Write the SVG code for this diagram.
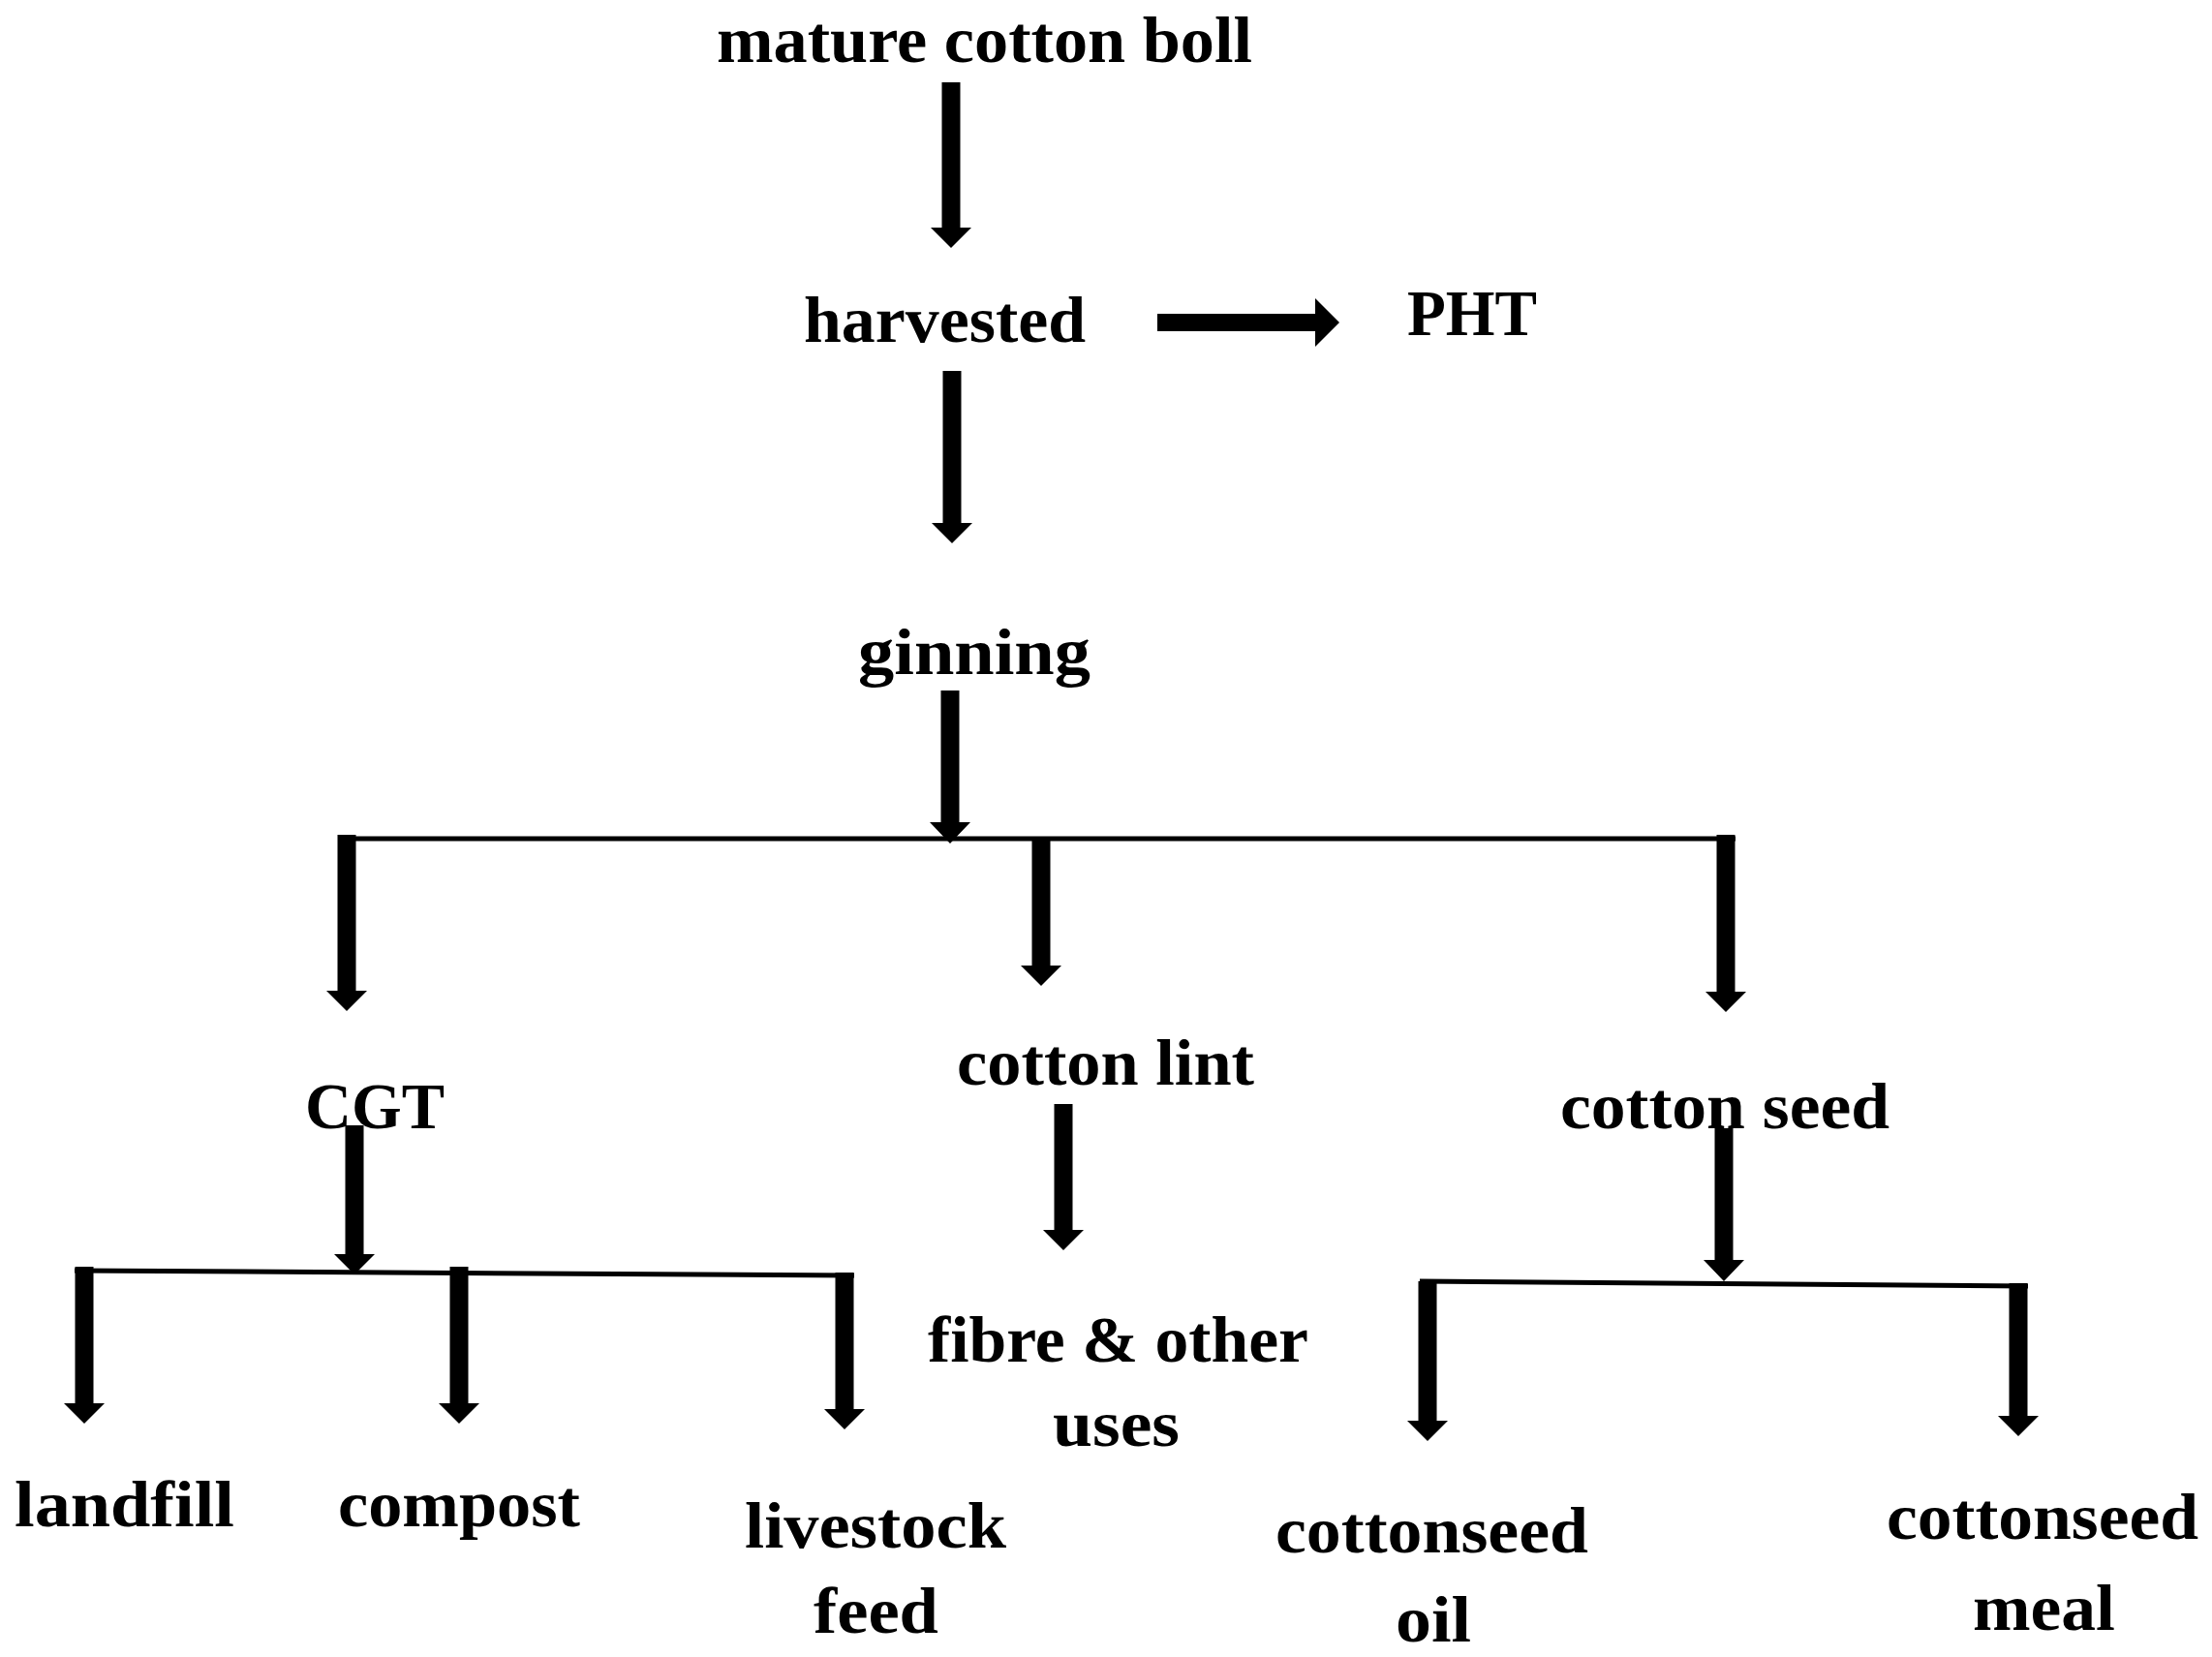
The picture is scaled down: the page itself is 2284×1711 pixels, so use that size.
<svg xmlns="http://www.w3.org/2000/svg" width="2284" height="1711" viewBox="0 0 2284 1711">
<style>
text{font-family:"Liberation Serif","Times New Roman",serif;font-weight:bold;font-size:68px;fill:#000}
.ar{fill:#000}
.ln{stroke:#000;stroke-width:5;fill:none}
</style>
<rect width="2284" height="1711" fill="#fff"/>
<g id="connectors">
<polygon class="ar" points="972.5,85 991.5,85 991.5,235 1003,235 982,256 961,235 972.5,235"/>
<polygon class="ar" points="973.5,383 992.5,383 992.5,540 1004,540 983,561 962,540 973.5,540"/>
<polygon class="ar" points="1195,324 1358,324 1358,308 1383,333 1358,358 1358,342 1195,342"/>
<polygon class="ar" points="971.5,713 990.5,713 990.5,849 1002,849 981,871 960,849 971.5,849"/>
<line class="ln" x1="349" y1="866" x2="1792" y2="866"/>
<polygon class="ar" points="348.5,862 367.5,862 367.5,1023 379,1023 358,1044 337,1023 348.5,1023"/>
<polygon class="ar" points="1065.5,865 1084.5,865 1084.5,997 1096,997 1075,1018 1054,997 1065.5,997"/>
<polygon class="ar" points="1772.5,862 1791.5,862 1791.5,1024 1803,1024 1782,1045 1761,1024 1772.5,1024"/>
<polygon class="ar" points="1088.5,1140 1107.5,1140 1107.5,1270 1119,1270 1098,1291 1077,1270 1088.5,1270"/>
<polygon class="ar" points="356.5,1162 375.5,1162 375.5,1295 387,1295 366,1316 345,1295 356.5,1295"/>
<line class="ln" x1="77" y1="1312" x2="882" y2="1317"/>
<polygon class="ar" points="77.5,1308 96.5,1308 96.5,1449 108,1449 87,1470 66,1449 77.5,1449"/>
<polygon class="ar" points="464.5,1308 483.5,1308 483.5,1449 495,1449 474,1470 453,1449 464.5,1449"/>
<polygon class="ar" points="862.5,1314 881.5,1314 881.5,1455 893,1455 872,1476 851,1455 862.5,1455"/>
<polygon class="ar" points="1770.5,1165 1789.5,1165 1789.5,1301 1801,1301 1780,1323 1759,1301 1770.5,1301"/>
<line class="ln" x1="1466" y1="1323" x2="2094" y2="1328"/>
<polygon class="ar" points="1464.5,1323 1483.5,1323 1483.5,1467 1495,1467 1474,1488 1453,1467 1464.5,1467"/>
<polygon class="ar" points="2074.5,1325 2093.5,1325 2093.5,1462 2105,1462 2084,1483 2063,1462 2074.5,1462"/>
</g>
<g id="n-boll"><text x="740" y="64" textLength="553" lengthAdjust="spacingAndGlyphs">mature cotton boll</text></g>
<g id="n-harvested"><text x="830" y="353" textLength="291" lengthAdjust="spacingAndGlyphs">harvested</text></g>
<g id="n-pht"><text x="1453" y="346" textLength="134" lengthAdjust="spacingAndGlyphs">PHT</text></g>
<g id="n-ginning"><text x="886" y="696" textLength="240" lengthAdjust="spacingAndGlyphs">ginning</text></g>
<g id="n-cgt"><text x="315" y="1165" textLength="144" lengthAdjust="spacingAndGlyphs">CGT</text></g>
<g id="n-lint"><text x="988" y="1120" textLength="307" lengthAdjust="spacingAndGlyphs">cotton lint</text></g>
<g id="n-seed"><text x="1611" y="1165" textLength="340" lengthAdjust="spacingAndGlyphs">cotton seed</text></g>
<g id="n-fibre"><text x="958" y="1406" textLength="393" lengthAdjust="spacingAndGlyphs">fibre &amp; other</text><text x="1087" y="1493" textLength="131" lengthAdjust="spacingAndGlyphs">uses</text></g>
<g id="n-landfill"><text x="15" y="1576" textLength="227" lengthAdjust="spacingAndGlyphs">landfill</text></g>
<g id="n-compost"><text x="349" y="1576" textLength="250" lengthAdjust="spacingAndGlyphs">compost</text></g>
<g id="n-livestock"><text x="769" y="1598" textLength="270" lengthAdjust="spacingAndGlyphs">livestock</text><text x="840" y="1686" textLength="129" lengthAdjust="spacingAndGlyphs">feed</text></g>
<g id="n-oil"><text x="1317" y="1603" textLength="323" lengthAdjust="spacingAndGlyphs">cottonseed</text><text x="1441" y="1695" textLength="78" lengthAdjust="spacingAndGlyphs">oil</text></g>
<g id="n-meal"><text x="1948" y="1589" textLength="322" lengthAdjust="spacingAndGlyphs">cottonseed</text><text x="2037" y="1683" textLength="147" lengthAdjust="spacingAndGlyphs">meal</text></g>
</svg>
